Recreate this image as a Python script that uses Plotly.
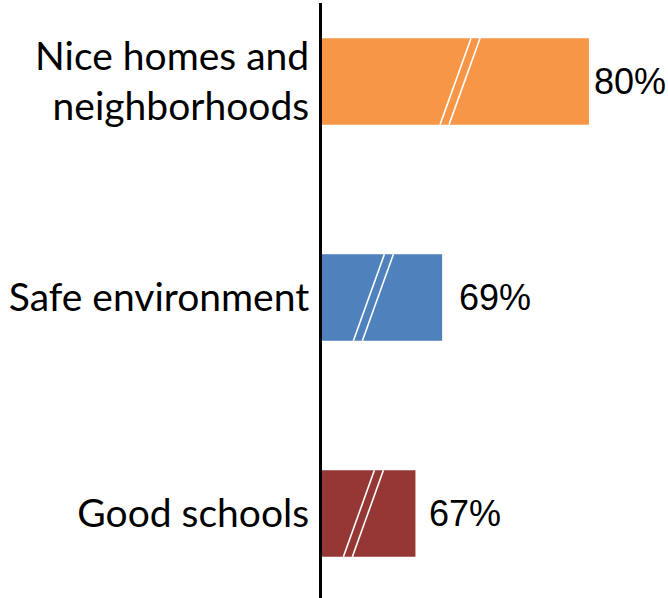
import plotly.graph_objects as go

# Survey results: share of respondents citing each reason
categories = ["Nice homes and<br>neighborhoods", "Safe environment", "Good schools"]
values = [80, 69, 67]
value_labels = ["80%", "69%", "67%"]
colors = ["#F79646", "#4F81BD", "#953735"]

# where the axis-break marks sit on each bar (data units)
break_at = [70.34, 63.85, 63.1]
# extra horizontal offset of each value label (px)
label_shift = [3, 15, 12]

x_start, x_end = 60, 85.92
px_per_unit = 346 / (x_end - x_start)
bar_w = 0.4
slant = 31 / px_per_unit
gap = 9 / px_per_unit

# bars start at x_start, so each bar's length is its value minus x_start
fig = go.Figure(go.Bar(
    x=[v - x_start for v in values],
    y=list(range(len(categories))),
    base=x_start,
    orientation="h",
    width=bar_w,
    marker=dict(color=colors, line=dict(width=0)),
    hoverinfo="skip",
))

shapes = []
for i, b in enumerate(break_at):
    top, bot = i - bar_w / 2, i + bar_w / 2
    for off in (-gap / 2, gap / 2):
        shapes.append(dict(
            type="line", xref="x", yref="y",
            x0=b + off + slant / 2, y0=top,
            x1=b + off - slant / 2, y1=bot,
            line=dict(color="white", width=1.6),
        ))

annotations = []
for i, (v, t, s) in enumerate(zip(values, value_labels, label_shift)):
    annotations.append(dict(
        x=v, y=i, xref="x", yref="y", text=t, showarrow=False,
        xanchor="left", yanchor="middle", xshift=s,
        font=dict(family="Arial, Liberation Sans, sans-serif", size=36, color="black"),
    ))

fig.update_layout(
    width=668, height=598,
    margin=dict(l=322, r=0, t=3, b=0),
    paper_bgcolor="white", plot_bgcolor="white",
    showlegend=False,
    shapes=shapes,
    annotations=annotations,
    xaxis=dict(range=[x_start, x_end], visible=False, fixedrange=True),
    yaxis=dict(
        range=[2.391, -0.363],
        tickmode="array",
        tickvals=list(range(len(categories))),
        ticktext=categories,
        ticks="", showgrid=False, zeroline=False,
        showline=True, linecolor="black", linewidth=3,
        ticklabelstandoff=2,
        tickfont=dict(family="Lato", size=39, color="black"),
        fixedrange=True,
    ),
)

fig.write_html("out.html")
